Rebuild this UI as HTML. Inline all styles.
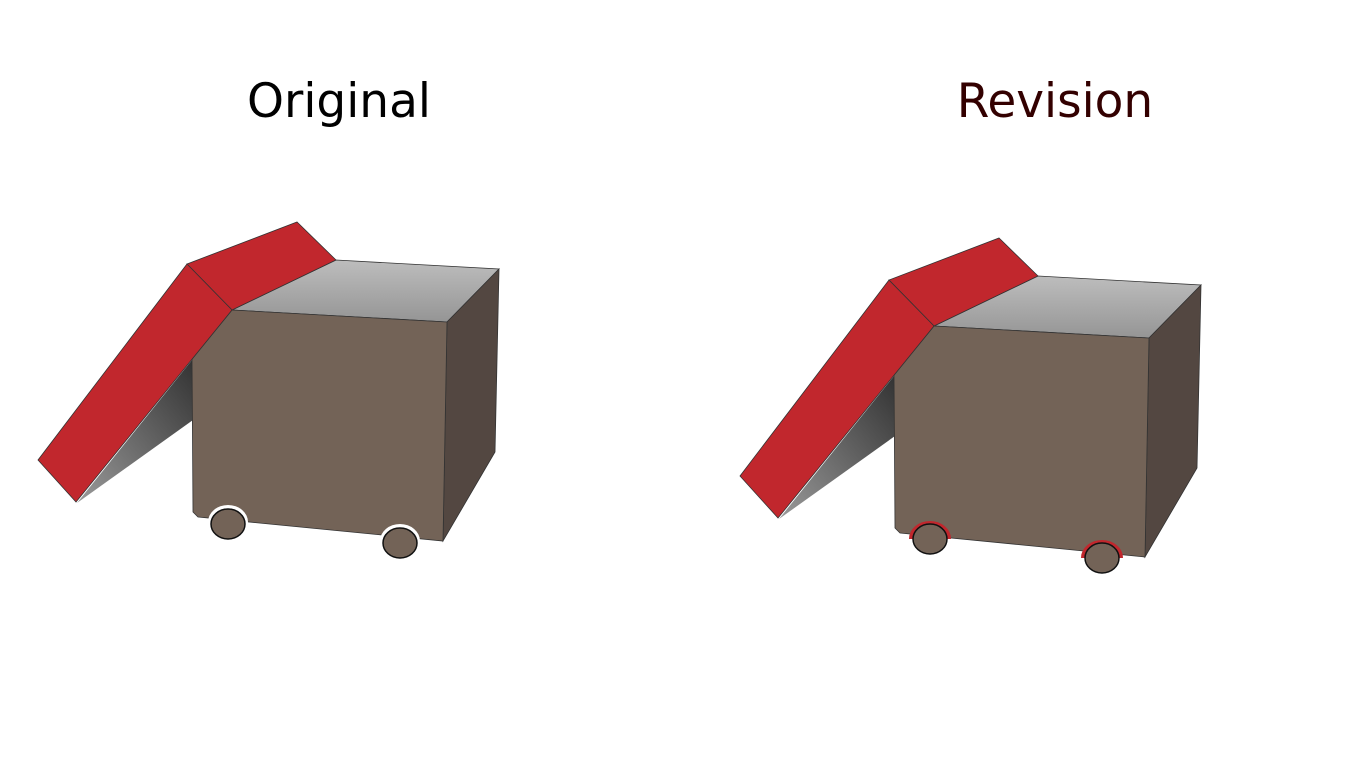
<!DOCTYPE html>
<html><head><meta charset="utf-8"><style>
html,body{margin:0;padding:0;background:#fff;}
svg{display:block}
</style></head><body>
<svg width="1366" height="768" viewBox="0 0 1366 768" xmlns="http://www.w3.org/2000/svg">
<defs>
<linearGradient id="top" x1="0" y1="0" x2="0" y2="1">
<stop offset="0" stop-color="#bdbdbd"/><stop offset="1" stop-color="#959595"/></linearGradient>
<linearGradient id="under" x1="0" y1="1" x2="1" y2="0">
<stop offset="0" stop-color="#9a9a9a"/><stop offset="1" stop-color="#333"/></linearGradient>
<g id="box">
<polygon points="77,503 193,420 192,360" fill="url(#under)"/>
<polygon points="232,310 336,260 499,269 447,322" fill="url(#top)" stroke="#333" stroke-width="0.8"/>
<polygon points="447,322 499,269 495,452 443,541" fill="#534741" stroke="#333" stroke-width="0.8"/>
<polygon points="232,310 447,322 443,541 198,517 193,512 192,359" fill="#736357" stroke="#333" stroke-width="0.8"/>
<polygon points="187,264 297,222 336,260 232,310" fill="#c1272d" stroke="#333" stroke-width="0.8"/>
<polygon points="187,264 232,310 76,502 38,460" fill="#c1272d" stroke="#333" stroke-width="0.8"/>
</g>
</defs>
<text x="339" y="117" text-anchor="middle" font-family="DejaVu Sans, sans-serif" font-size="47" fill="#000">Original</text>
<text x="1055" y="117" text-anchor="middle" font-family="DejaVu Sans, sans-serif" font-size="47" fill="#330000">Revision</text>
<use href="#box"/>
<ellipse cx="228" cy="522" rx="20" ry="17" fill="#fff"/>
<ellipse cx="228" cy="524" rx="17" ry="15" fill="#736357" stroke="#111" stroke-width="1.5"/>
<ellipse cx="400" cy="541" rx="20" ry="17" fill="#fff"/>
<ellipse cx="400" cy="543" rx="17" ry="15" fill="#736357" stroke="#111" stroke-width="1.5"/>
<g transform="translate(702,16)">
<use href="#box"/>
<path d="M209,523 A19,16 0 0 1 247,523" fill="none" stroke="#c1272d" stroke-width="4"/>
<ellipse cx="228" cy="523" rx="17" ry="15" fill="#736357" stroke="#111" stroke-width="1.5"/>
<path d="M381,542 A19,16 0 0 1 419,542" fill="none" stroke="#c1272d" stroke-width="4"/>
<ellipse cx="400" cy="542" rx="17" ry="15" fill="#736357" stroke="#111" stroke-width="1.5"/>
</g>
</svg>
</body></html>
